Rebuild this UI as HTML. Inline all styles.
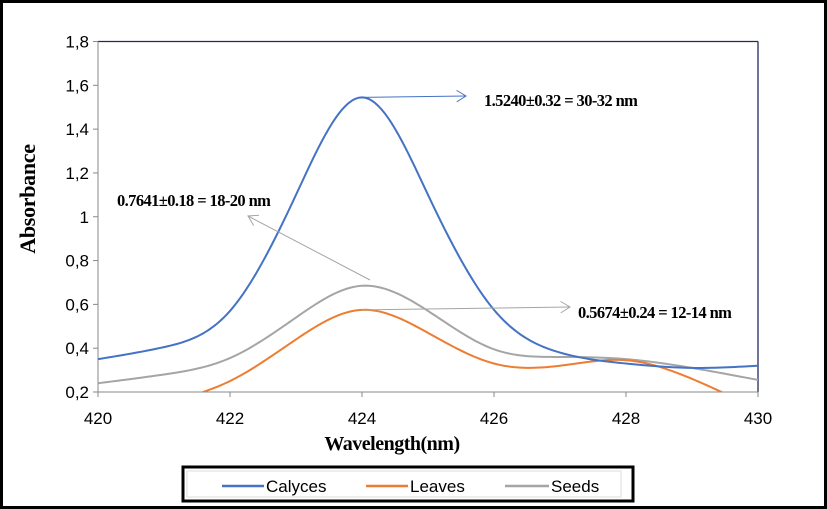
<!DOCTYPE html>
<html><head><meta charset="utf-8"><style>
html,body{margin:0;padding:0;background:#fff}
svg{display:block}
.t{font-family:"Liberation Sans Narrow","Liberation Sans",sans-serif;font-size:17px;fill:#000}
.b{font-family:"Liberation Serif",serif;font-weight:bold;fill:#000}
</style></head><body>
<svg id="c" width="827" height="509" viewBox="0 0 827 509">
<rect x="1.5" y="1.5" width="824" height="506" fill="#fff" stroke="#000" stroke-width="3"/>
<defs><clipPath id="pc"><rect x="98" y="41" width="660" height="351"/></clipPath></defs>
<g id="axes"></g>
<g id="series" clip-path="url(#pc)"></g>
<g id="ann"></g>
<text class="b" x="392" y="450" font-size="20" letter-spacing="-0.5" text-anchor="middle">Wavelength(nm)</text>
<text class="b" font-size="22" letter-spacing="-0.3" text-anchor="middle" transform="translate(35,199) rotate(-90)">Absorbance</text>
<g>
<rect x="183" y="467" width="450" height="34" fill="#fff" stroke="#000" stroke-width="3"/>
<rect x="187" y="471" width="434" height="26" fill="none" stroke="#ddd" stroke-width="1"/>
<g><line x1="222" y1="486" x2="264" y2="486" stroke="#4472c4" stroke-width="2.5"/><text class="t" x="266" y="492">Calyces</text></g>
<g><line x1="366" y1="486" x2="408" y2="486" stroke="#ed7d31" stroke-width="2.5"/><text class="t" x="410" y="492">Leaves</text></g>
<g><line x1="505" y1="486" x2="549" y2="486" stroke="#a5a5a5" stroke-width="2.5"/><text class="t" x="551" y="492">Seeds</text></g>
</g>
</svg>
<script>
const xTicks=[420,422,424,426,428,430];
const yTicks=[0.2,0.4,0.6,0.8,1,1.2,1.4,1.6,1.8];
const yTickLabels=["0,2","0,4","0,6","0,8","1","1,2","1,4","1,6","1,8"];
const calycesX=[420,421,422,423,424,425,426,427,428,429,430];
const calycesY=[0.35,0.405,0.57,1.1,1.545,1.1,0.575,0.38,0.33,0.31,0.32];
const leavesX=[421,422,423,424,425,426,427,428,429,430];
const leavesY=[0.15,0.25,0.44,0.575,0.47,0.33,0.32,0.345,0.26,0.12];
const seedsX=[420,421,422,423,424,425,426,427,428,429,430];
const seedsY=[0.24,0.28,0.355,0.54,0.685,0.57,0.395,0.36,0.35,0.31,0.255];
const NS="http://www.w3.org/2000/svg";
const X0=98,X1=758,Y0=392,Y1=41.5;
const sx=v=>X0+(v-420)/(430-420)*(X1-X0);
const sy=v=>Y0-(v-0.2)/(1.8-0.2)*(Y0-Y1);
function mk(tag,at,parent){const e=document.createElementNS(NS,tag);for(const k in at)e.setAttribute(k,at[k]);parent.appendChild(e);return e;}
const axes=document.getElementById('axes');
let l=mk('line',{x1:X0,y1:Y1,x2:X1,y2:Y1,stroke:'#1f2d5a','stroke-width':1.3},axes);

l=mk('line',{x1:X1,y1:Y1,x2:X1,y2:Y0,stroke:'#1f2d5a','stroke-width':1.3},axes);

l=mk('line',{x1:X0,y1:Y1,x2:X0,y2:Y0,stroke:'#888','stroke-width':1},axes);

l=mk('line',{x1:X0,y1:Y0,x2:X1,y2:Y0,stroke:'#888','stroke-width':1},axes);

yTicks.forEach((v,i)=>{const y=sy(v);
 const tk=mk('line',{x1:X0-5,y1:y,x2:X0,y2:y,stroke:'#888'},axes);
 
 const t=mk('text',{x:X0-9,y:y+6,'text-anchor':'end',class:'t'},axes);t.textContent=yTickLabels[i];
 });
xTicks.forEach(v=>{const x=sx(v);
 const tk=mk('line',{x1:x,y1:Y0,x2:x,y2:Y0+5,stroke:'#888'},axes);
 
 const t=mk('text',{x:x,y:Y0+32,'text-anchor':'middle',class:'t'},axes);t.textContent=v;
 });
// natural cubic spline
function spline(xs,ys){const n=xs.length,h=[],al=[0],l=[1],mu=[0],z=[0],c=new Array(n).fill(0),b=[],d=[];
 for(let i=0;i<n-1;i++)h[i]=xs[i+1]-xs[i];
 for(let i=1;i<n-1;i++)al[i]=3/h[i]*(ys[i+1]-ys[i])-3/h[i-1]*(ys[i]-ys[i-1]);
 for(let i=1;i<n-1;i++){l[i]=2*(xs[i+1]-xs[i-1])-h[i-1]*mu[i-1];mu[i]=h[i]/l[i];z[i]=(al[i]-h[i-1]*z[i-1])/l[i];}
 for(let j=n-2;j>=0;j--){c[j]=(j<n-2||true)?(z[j]||0)-mu[j]*c[j+1]:0;b[j]=(ys[j+1]-ys[j])/h[j]-h[j]*(c[j+1]+2*c[j])/3;d[j]=(c[j+1]-c[j])/(3*h[j]);}
 c[0]=0;
 let pts=[];
 for(let j=0;j<n-1;j++){for(let k=0;k<20;k++){const t=h[j]*k/20;pts.push([sx(xs[j]+t),sy(ys[j]+b[j]*t+c[j]*t*t+d[j]*t*t*t)]);}}
 pts.push([sx(xs[n-1]),sy(ys[n-1])]);
 return 'M'+pts.map(p=>p[0].toFixed(2)+','+p[1].toFixed(2)).join(' L');}
const sg=document.getElementById('series');
[[seedsX,seedsY,'#a5a5a5','series-seeds'],[leavesX,leavesY,'#ed7d31','series-leaves'],[calycesX,calycesY,'#4472c4','series-calyces']].forEach(s=>{
 const p=mk('path',{d:spline(s[0],s[1]),fill:'none',stroke:s[2],'stroke-width':2,'stroke-linejoin':'round'},sg);
 });
const ann=document.getElementById('ann');
function arrow(x1,y1,x2,y2,col,name){const g=mk('g',{},ann);
 
 mk('line',{x1,y1,x2,y2,stroke:col,'stroke-width':1},g);
 const a=Math.atan2(y2-y1,x2-x1),L=11,w=0.55;
 mk('polyline',{points:(x2-L*Math.cos(a-w))+','+(y2-L*Math.sin(a-w))+' '+x2+','+y2+' '+(x2-L*Math.cos(a+w))+','+(y2-L*Math.sin(a+w)),fill:'none',stroke:col,'stroke-width':1},g);}
arrow(sx(424),sy(1.545),466,96,'#4472c4','calyces-peak-arrow');
arrow(sx(424),sy(0.575),570,307,'#a5a5a5','leaves-peak-arrow');
arrow(370,280,248,216,'#a5a5a5','seeds-peak-arrow');
[[484,106,'1.5240±0.32 = 30-32 nm','calyces-annotation'],[117,206,'0.7641±0.18 = 18-20 nm','seeds-annotation'],[578,318,'0.5674±0.24 = 12-14 nm','leaves-annotation']].forEach(a=>{
 const t=mk('text',{x:a[0],y:a[1],class:'b','font-size':16.5,'letter-spacing':-0.6},ann);t.textContent=a[2];
 });
</script>
</body></html>
